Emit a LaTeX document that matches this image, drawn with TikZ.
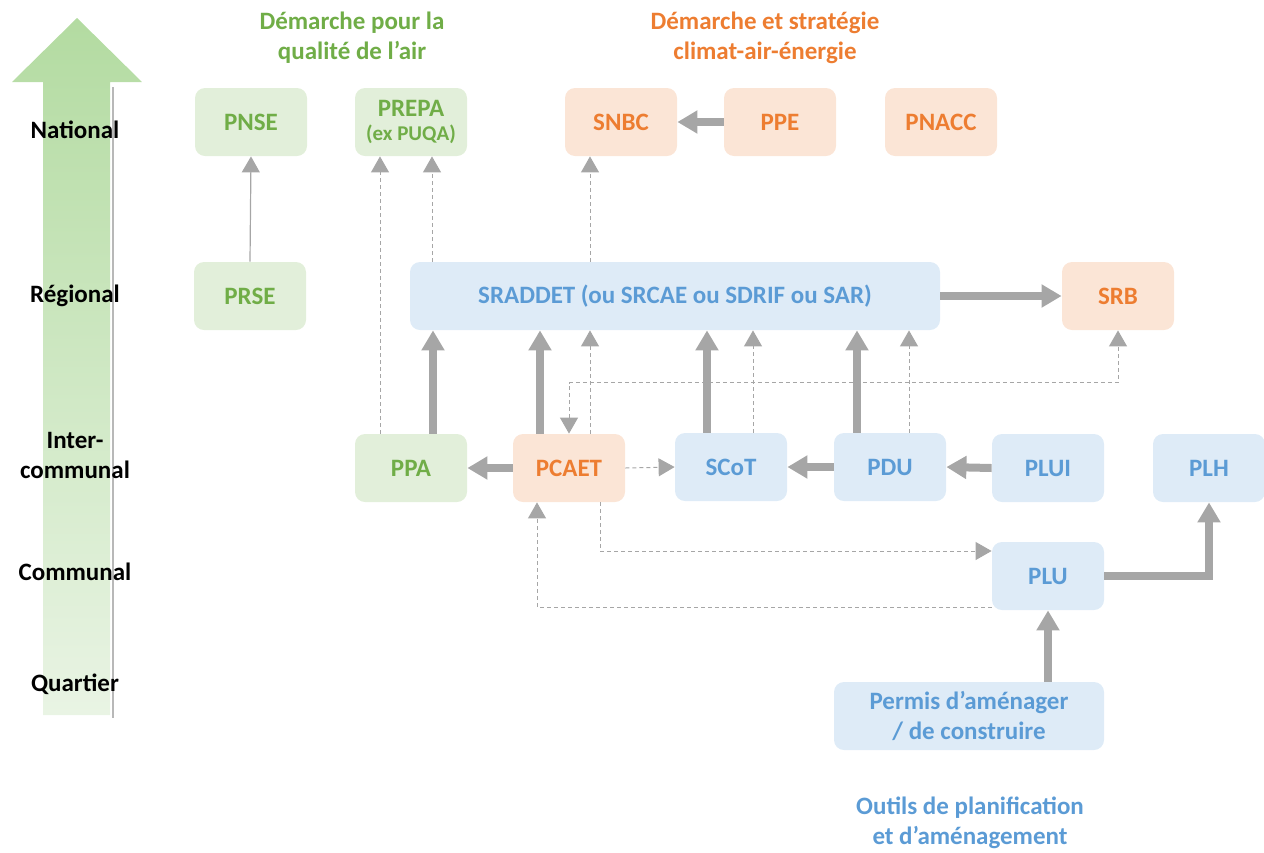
\documentclass[tikz,border=0pt]{standalone}
\usepackage{fontspec}
\setmainfont{Carlito}
\usetikzlibrary{arrows.meta,positioning}

\definecolor{vert}{HTML}{70AD47}
\definecolor{vertclair}{HTML}{E2EFDA}
\definecolor{orangetxt}{HTML}{ED7D31}
\definecolor{orangeclair}{HTML}{FBE5D6}
\definecolor{bleu}{HTML}{5B9BD5}
\definecolor{bleuclair}{HTML}{DEEBF7}
\definecolor{gris}{HTML}{A6A6A6}
\definecolor{echhaut}{HTML}{B3DBA1}
\definecolor{echbas}{HTML}{E9F4E4}

\begin{document}
\begin{tikzpicture}[x=0.5pt,y=-0.5pt,
                    font=\bfseries\fontsize{12.5}{15}\selectfont,
                    pointe/.tip={Triangle[width=9pt,length=8pt]},
                    grosse/.tip={Triangle[width=11pt,length=10pt]},
                    box/.style={rounded corners=5pt,minimum width=56pt,
                                minimum height=34pt,align=center,inner sep=2pt},
                    air/.style={box,fill=vertclair,text=vert},
                    climat/.style={box,fill=orangeclair,text=orangetxt},
                    outil/.style={box,fill=bleuclair,text=bleu},
                    fort/.style={-grosse,draw=gris,line width=4pt},
                    lien/.style={-pointe,draw=gris,line width=0.5pt,
                                 dash pattern=on 2pt off 1.5pt},
                    fin/.style={-pointe,draw=gris,line width=0.6pt}]

  \useasboundingbox (0,0) rectangle (1264,852);

  \shade[top color=echhaut,bottom color=echbas]
    (43,715) -- (43,82) -- (12,82) -- (77,18) -- (142,82) -- (110,82)
    -- (110,715) -- cycle;
  \draw[gris!80,line width=0.6pt] (113,87) -- (113,718);

  \node (national) at (75,130) {National};
  \node (regional) at (75,296) {Régional};
  \node[align=center] (intercom) at (75,455) {Inter-\\communal};
  \node (communal) at (75,572) {Communal};
  \node (quartier) at (75,684) {Quartier};

  \node[text=vert,align=center]      (titreair)    at (352,38)
    {Démarche pour la\\qualité de l’air};
  \node[text=orangetxt,align=center] (titreclimat) at (765,38)
    {Démarche et stratégie\\climat-air-énergie};
  \node[text=bleu,align=center]      (titreoutil)  at (970,823)
    {Outils de planification\\et d’aménagement};

  \node[air]    (PNSE)  at (251,122)  {PNSE};
  \node[air]    (PREPA) at (411,122)
    {PREPA\\[-3pt]{\fontsize{10.5}{12}\selectfont(ex PUQA)}};
  \node[climat] (SNBC)  at (621,122)  {SNBC};
  \node[climat] (PPE)   at (780,122)  {PPE};
  \node[climat] (PNACC) at (941,122)  {PNACC};

  \node[air]    (PRSE)  at (250,296)  {PRSE};
  \node[outil,minimum width=265pt] (SRAD) at (675,296)
    {SRADDET (ou SRCAE ou SDRIF ou SAR)};
  \node[climat] (SRB)   at (1118,296) {SRB};

  \node[air]    (PPA)   at (411,468)  {PPA};
  \node[climat] (PCAET) at (569,468)  {PCAET};
  \node[outil]  (SCOT)  at (731,467)  {SCoT};
  \node[outil]  (PDU)   at (890,467)  {PDU};
  \node[outil]  (PLUI)  at (1048,468) {PLUI};
  \node[outil]  (PLH)   at (1209,468) {PLH};

  \node[outil]  (PLU)   at (1048,576) {PLU};
  \node[outil,minimum width=135pt] (PERMIS) at (969,716)
    {Permis d’aménager\\/ de construire};

  \draw[fin]  (PRSE.north) -- (PNSE.south);
  \draw[fort] (PPE.west) -- (SNBC.east);
  \draw[fort] (SRAD.east) -- (SRB.west);

  \draw[lien] ([xshift=-15.5pt]PPA.north) -- ([xshift=-15.5pt]PREPA.south);
  \draw[lien] ([xshift=10.5pt]PREPA.south |- SRAD.north) -- ([xshift=10.5pt]PREPA.south);
  \draw[lien] ([xshift=-15.5pt]SNBC.south |- SRAD.north) -- ([xshift=-15.5pt]SNBC.south);

  \draw[fort] ([xshift=11pt]PPA.north) -- ([xshift=11pt]PPA.north |- SRAD.south);
  \draw[fort] ([xshift=-14.5pt]PCAET.north) -- ([xshift=-14.5pt]PCAET.north |- SRAD.south);
  \draw[lien] ([xshift=10.5pt]PCAET.north) -- ([xshift=10.5pt]PCAET.north |- SRAD.south);
  \draw[fort] ([xshift=-12pt]SCOT.north) -- ([xshift=-12pt]SCOT.north |- SRAD.south);
  \draw[lien] ([xshift=11pt]SCOT.north) -- ([xshift=11pt]SCOT.north |- SRAD.south);
  \draw[fort] ([xshift=-16.5pt]PDU.north) -- ([xshift=-16.5pt]PDU.north |- SRAD.south);
  \draw[lien] ([xshift=9.5pt]PDU.north) -- ([xshift=9.5pt]PDU.north |- SRAD.south);

  \draw[lien,pointe-pointe] (PCAET.north) -- ++(0,-51) -| (SRB.south);

  \draw[fort] (PCAET.west) -- (PPA.east);
  \draw[lien] (PCAET.east) -- (SCOT.west);
  \draw[fort] (PDU.west) -- (SCOT.east);
  \draw[fort] (PLUI.west) -- (PDU.east);

  \draw[lien] ([xshift=15.5pt]PCAET.south) |- ([yshift=12.5pt]PLU.west);
  \draw[lien] ([yshift=-15.5pt]PLU.west) -| ([xshift=-16pt]PCAET.south);
  \draw[fort] (PLU.east) -| (PLH.south);
  \draw[fort] (PLU.south |- PERMIS.north) -- (PLU.south);
\end{tikzpicture}
\end{document}
